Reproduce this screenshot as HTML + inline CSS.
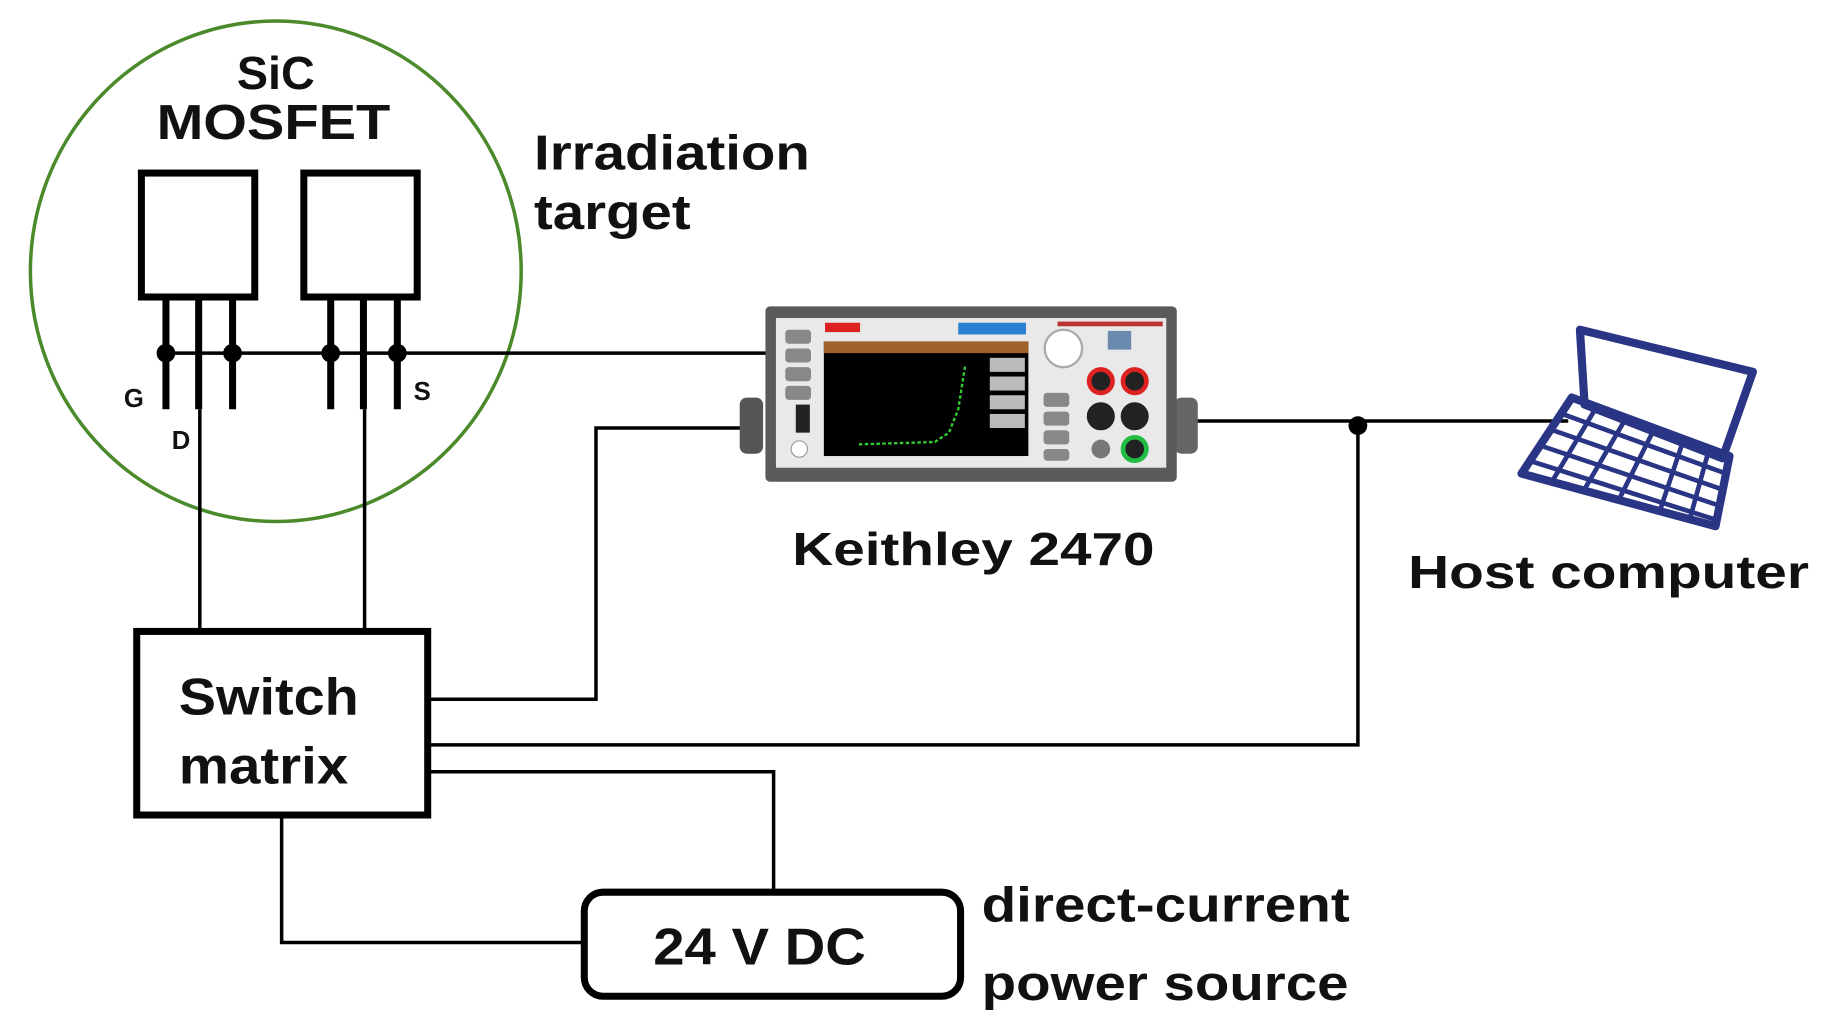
<!DOCTYPE html>
<html><head><meta charset="utf-8"><style>
html,body{margin:0;padding:0;background:#fff;}
svg{display:block;}
text{font-family:"Liberation Sans",Arial,sans-serif;font-weight:bold;fill:#111;}
</style></head><body>
<svg width="1823" height="1029" viewBox="0 0 1560 880" preserveAspectRatio="none" xmlns="http://www.w3.org/2000/svg">
<rect width="1560" height="880" fill="#fff"/>
<ellipse cx="236" cy="232" rx="210" ry="214" fill="none" stroke="#4a8a2a" stroke-width="3"/>
<text x="236" y="76" font-size="40" text-anchor="middle">SiC</text>
<text x="234" y="119" font-size="42" text-anchor="middle" textLength="200" lengthAdjust="spacingAndGlyphs">MOSFET</text>
<rect x="121" y="148" width="97" height="106" fill="none" stroke="#000" stroke-width="6"/>
<rect x="260" y="148" width="97" height="106" fill="none" stroke="#000" stroke-width="6"/>
<g stroke="#000" stroke-width="6">
<line x1="142" y1="254" x2="142" y2="350"/><line x1="170" y1="254" x2="170" y2="350"/><line x1="199" y1="254" x2="199" y2="350"/>
<line x1="283" y1="254" x2="283" y2="350"/><line x1="311" y1="254" x2="311" y2="350"/><line x1="340" y1="254" x2="340" y2="350"/>
</g>
<g stroke="#000" stroke-width="3" fill="none">
<line x1="142" y1="302" x2="662" y2="302"/>
<line x1="171" y1="350" x2="171" y2="540"/>
<line x1="312" y1="350" x2="312" y2="540"/>
<polyline points="367,598 510,598 510,366 640,366"/>
<polyline points="367,637 1162,637 1162,362"/>
<polyline points="367,660 662,660 662,762"/>
<polyline points="241,698 241,806 500,806"/>
<line x1="1015" y1="360" x2="1342" y2="360"/>
</g>
<g fill="#000">
<circle cx="142" cy="302" r="8"/><circle cx="199" cy="302" r="8"/><circle cx="283" cy="302" r="8"/><circle cx="340" cy="302" r="8"/>
<circle cx="1162" cy="364" r="8"/>
</g>
<text x="106" y="348" font-size="22">G</text>
<text x="147" y="384" font-size="22">D</text>
<text x="354" y="342" font-size="22">S</text>
<text x="457" y="145" font-size="42" textLength="236" lengthAdjust="spacingAndGlyphs">Irradiation</text>
<text x="457" y="196" font-size="42" textLength="134" lengthAdjust="spacingAndGlyphs">target</text>
<rect x="117" y="540" width="249" height="157" fill="#fff" stroke="#000" stroke-width="6"/>
<text x="153" y="611" font-size="44" textLength="154" lengthAdjust="spacingAndGlyphs">Switch</text>
<text x="153" y="670" font-size="44" textLength="145" lengthAdjust="spacingAndGlyphs">matrix</text>
<rect x="500" y="763" width="322" height="89" rx="16" fill="#fff" stroke="#000" stroke-width="6"/>
<text x="650" y="825" font-size="44" text-anchor="middle" textLength="182" lengthAdjust="spacingAndGlyphs">24 V DC</text>
<text x="840" y="788" font-size="42" textLength="315" lengthAdjust="spacingAndGlyphs">direct-current</text>
<text x="840" y="855" font-size="42" textLength="314" lengthAdjust="spacingAndGlyphs">power source</text>
<rect x="633" y="340" width="20" height="48" rx="6" fill="#555"/>
<rect x="1005" y="340" width="20" height="48" rx="6" fill="#666"/>
<rect x="655" y="262" width="352" height="150" rx="4" fill="#5a5a5a"/>
<rect x="664" y="272" width="334" height="128" fill="#e9e9e9"/>
<rect x="706" y="276" width="30" height="8" fill="#d22"/>
<rect x="820" y="276" width="58" height="10" fill="#2a7fd0"/>
<rect x="905" y="275" width="90" height="4" fill="#b33"/>
<rect x="705" y="292" width="175" height="98" fill="#000"/>
<rect x="705" y="292" width="175" height="10" fill="#a0622a"/>
<g fill="#bbb"><rect x="847" y="306" width="30" height="12"/><rect x="847" y="322" width="30" height="12"/><rect x="847" y="338" width="30" height="12"/><rect x="847" y="354" width="30" height="12"/></g>
<polyline points="735,380 800,378 812,370 820,350 826,312" fill="none" stroke="#3c3" stroke-width="2" stroke-dasharray="3,2"/>
<g fill="#888"><rect x="672" y="282" width="22" height="12" rx="3"/><rect x="672" y="298" width="22" height="12" rx="3"/><rect x="672" y="314" width="22" height="12" rx="3"/><rect x="672" y="330" width="22" height="12" rx="3"/>
<rect x="893" y="336" width="22" height="12" rx="3"/><rect x="893" y="352" width="22" height="12" rx="3"/><rect x="893" y="368" width="22" height="12" rx="3"/><rect x="893" y="384" width="22" height="10" rx="3"/></g>
<rect x="681" y="346" width="12" height="24" fill="#222"/>
<circle cx="910" cy="298" r="16" fill="#fff" stroke="#aaa" stroke-width="2"/>
<rect x="948" y="283" width="20" height="16" fill="#6a8ab0"/>
<g stroke-width="4" fill="#222"><circle cx="942" cy="326" r="10" stroke="#d22"/><circle cx="971" cy="326" r="10" stroke="#d22"/><circle cx="942" cy="356" r="10" stroke="#222"/><circle cx="971" cy="356" r="10" stroke="#222"/><circle cx="971" cy="384" r="10" stroke="#2b4"/></g>
<circle cx="942" cy="384" r="8" fill="#777"/>
<circle cx="684" cy="384" r="7" fill="#fff" stroke="#999"/>
<text x="833" y="483" font-size="40" text-anchor="middle" textLength="310" lengthAdjust="spacingAndGlyphs">Keithley 2470</text>
<g fill="none" stroke="#2a3585" stroke-width="7" stroke-linejoin="round">
<polygon points="1352,282 1500,318 1474,392 1356,346"/>
<polygon points="1345,340 1480,390 1468,450 1302,405"/>
</g>
<g stroke="#2a3585" stroke-width="4" fill="none">
<line x1="1337" y1="354" x2="1477" y2="405"/><line x1="1329" y1="368" x2="1475" y2="419"/><line x1="1321" y1="382" x2="1473" y2="433"/><line x1="1312" y1="395" x2="1470" y2="445"/>
<line x1="1365" y1="350" x2="1328" y2="412"/><line x1="1390" y1="360" x2="1355" y2="420"/><line x1="1415" y1="368" x2="1385" y2="428"/><line x1="1440" y1="378" x2="1420" y2="438"/><line x1="1462" y1="386" x2="1446" y2="444"/>
</g>
<text x="1205" y="503" font-size="40" textLength="343" lengthAdjust="spacingAndGlyphs">Host computer</text>
</svg>
</body></html>
